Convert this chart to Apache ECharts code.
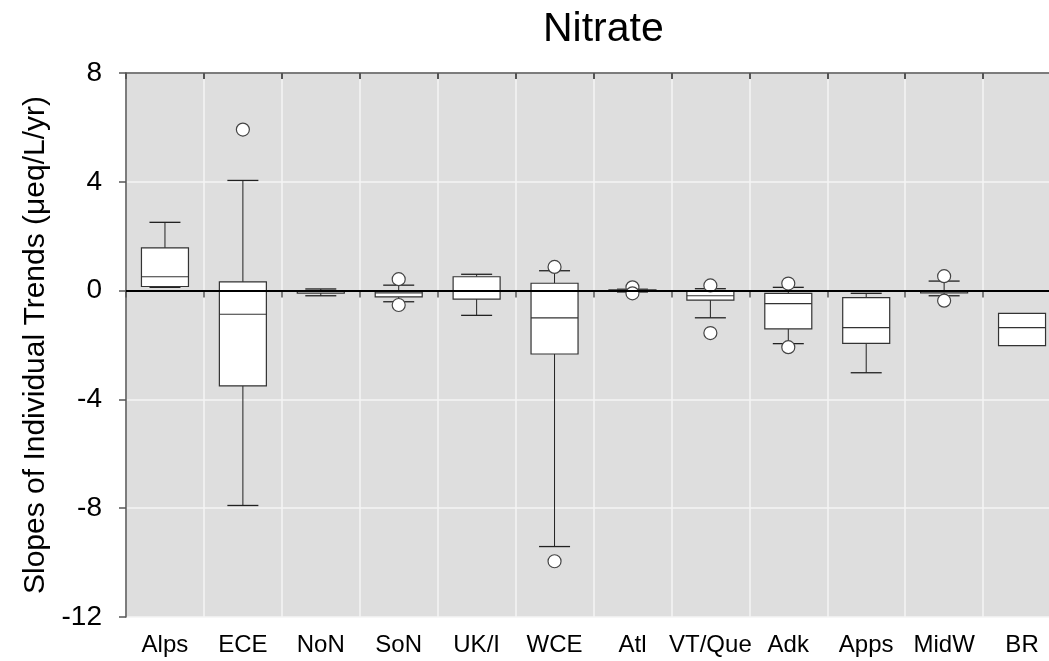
<!DOCTYPE html>
<html>
<head>
<meta charset="utf-8">
<script src="https://cdn.jsdelivr.net/npm/echarts@6/dist/echarts.min.js"></script>
<style>
html,body{margin:0;padding:0;background:#fff;overflow:hidden;}
#chart{width:1049px;height:661px;}
</style>
</head>
<body>
<div id="chart"></div>
<script>
const categories = ['Alps','ECE','NoN','SoN','UK/I','WCE','Atl','VT/Que','Adk','Apps','MidW','BR'];
const whiskerLow  = [0.12, -7.9, -0.19, -0.41, -0.91, -9.41, -0.05, -1.0, -1.95, -3.02, -0.19, -2.02];
const quartile1   = [0.15, -3.5, -0.09, -0.23, -0.31, -2.33, -0.03, -0.35, -1.41, -1.94, -0.08, -2.02];
const medians     = [0.51, -0.87, -0.03, -0.08, 0.0, -1.0, 0.0, -0.19, -0.48, -1.36, -0.03, -1.36];
const quartile3   = [1.57, 0.32, 0.0, -0.02, 0.51, 0.27, 0.03, -0.01, -0.1, -0.26, 0.0, -0.84];
const whiskerHigh = [2.51, 4.05, 0.06, 0.2, 0.6, 0.73, 0.05, 0.07, 0.12, -0.1, 0.35, -0.84];
const outlierCats   = ['ECE','SoN','SoN','WCE','WCE','Atl','Atl','VT/Que','VT/Que','Adk','Adk','MidW','MidW'];
const outlierValues = [5.92, 0.42, -0.53, 0.87, -9.95, 0.12, -0.1, 0.19, -1.56, 0.26, -2.08, 0.53, -0.37];
const yTicks = { min: -12, max: 8, interval: 4 };

const boxData = categories.map((c, i) => [i, whiskerLow[i], quartile1[i], medians[i], quartile3[i], whiskerHigh[i]]);
const outlierData = outlierCats.map((c, i) => [categories.indexOf(c), outlierValues[i]]);

const FONT = "'Liberation Sans', Arial, sans-serif";
const chart = echarts.init(document.getElementById('chart'), null, { renderer: 'canvas' });

function renderBox(params, api) {
  const idx = api.value(0);
  const lo = api.coord([idx, api.value(1)]);
  const q1 = api.coord([idx, api.value(2)]);
  const md = api.coord([idx, api.value(3)]);
  const q3 = api.coord([idx, api.value(4)]);
  const hi = api.coord([idx, api.value(5)]);
  const x = md[0];
  const bw = 23.5, cw = 15.5;
  const line = '#222';
  const children = [];
  if (hi[1] < q3[1] - 0.5) {
    children.push({ type: 'line', shape: { x1: x, y1: q3[1], x2: x, y2: hi[1] }, style: { stroke: line, lineWidth: 1 } });
    children.push({ type: 'line', shape: { x1: x - cw, y1: hi[1], x2: x + cw, y2: hi[1] }, style: { stroke: line, lineWidth: 1.3 } });
  }
  if (lo[1] > q1[1] + 0.5) {
    children.push({ type: 'line', shape: { x1: x, y1: q1[1], x2: x, y2: lo[1] }, style: { stroke: line, lineWidth: 1 } });
    children.push({ type: 'line', shape: { x1: x - cw, y1: lo[1], x2: x + cw, y2: lo[1] }, style: { stroke: line, lineWidth: 1.3 } });
  }
  children.push({ type: 'rect', shape: { x: x - bw, y: q3[1], width: bw * 2, height: Math.max(q1[1] - q3[1], 1) },
    style: { fill: '#ffffff', stroke: '#333', lineWidth: 1.2 } });
  children.push({ type: 'line', shape: { x1: x - bw, y1: md[1], x2: x + bw, y2: md[1] }, style: { stroke: '#333', lineWidth: 1.2 } });
  return { type: 'group', children: children };
}

const option = {
  animation: false,
  backgroundColor: '#ffffff',
  title: {
    text: 'Nitrate',
    left: 538, top: 4,
    textStyle: { fontFamily: FONT, fontSize: 41, fontWeight: 'normal', color: '#000' }
  },
  grid: { left: 126, top: 73, width: 935, bottom: 44, outerBoundsMode: 'none', containLabel: false,
          show: true, backgroundColor: '#dedede', borderWidth: 0 },
  xAxis: [
    {
      type: 'category', data: categories, boundaryGap: true, position: 'bottom',
      axisLine: { lineStyle: { color: '#555', width: 1.5 } },
      axisTick: { show: true, length: 7, alignWithLabel: false, lineStyle: { color: '#555', width: 1.5 } },
      axisLabel: { fontFamily: FONT, fontSize: 24, color: '#000', margin: 16, interval: 0 },
      splitLine: { show: true, interval: 0, lineStyle: { color: '#f4f4f4', width: 1.5 } }
    },
    {
      type: 'category', data: categories, boundaryGap: true, position: 'top',
      axisLine: { lineStyle: { color: '#555', width: 1.5 } },
      axisTick: { show: true, inside: true, length: 6, lineStyle: { color: '#555', width: 2 } },
      axisLabel: { show: false },
      splitLine: { show: false }
    }
  ],
  yAxis: {
    type: 'value', min: yTicks.min, max: yTicks.max, interval: yTicks.interval,
    name: 'Slopes of Individual Trends (μeq/L/yr)',
    nameLocation: 'middle', nameGap: 66, nameRotate: 90,
    nameTextStyle: { fontFamily: FONT, fontSize: 30, color: '#000' },
    axisLine: { show: true, lineStyle: { color: '#555', width: 1.5 } },
    axisTick: { show: true, length: 7, lineStyle: { color: '#555', width: 1.5 } },
    axisLabel: { fontFamily: FONT, fontSize: 28, color: '#000', margin: 24 },
    splitLine: { show: true, lineStyle: { color: '#f4f4f4', width: 1.5 } }
  },
  series: [
    {
      type: 'custom', name: 'box', xAxisIndex: 0,
      renderItem: renderBox,
      encode: { x: 0, y: [1, 2, 3, 4, 5] },
      data: boxData, z: 3, silent: true
    },
    {
      type: 'scatter', name: 'outliers', xAxisIndex: 0,
      data: outlierData, symbol: 'circle', symbolSize: 13,
      itemStyle: { color: '#ffffff', borderColor: '#444', borderWidth: 1.2, opacity: 1 },
      z: 4, silent: true,
      markLine: {
        silent: true, symbol: ['none', 'none'], label: { show: false },
        lineStyle: { color: '#000', width: 2.2, type: 'solid' },
        data: [{ yAxis: 0 }], z: 10
      }
    }
  ]
};
chart.setOption(option);
</script>
</body>
</html>
